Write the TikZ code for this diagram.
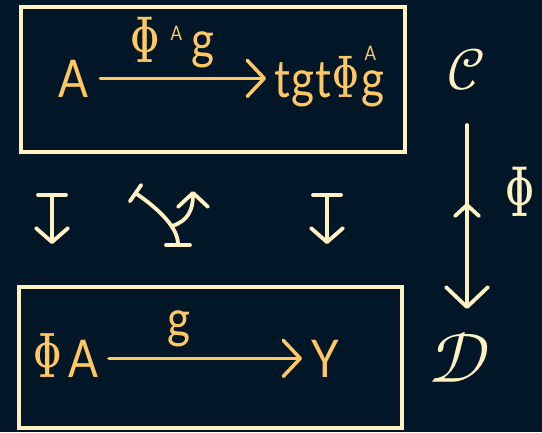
\documentclass[tikz,border=0pt]{standalone}
\usepackage{fontspec}
\setmainfont[FakeStretch=0.85]{Lato}
\newfontfamily\lmfont{Latin Modern Roman}
\newfontfamily\lmmath{Latin Modern Math}
\usepackage{graphicx}
\usetikzlibrary{arrows.meta}
\definecolor{bg}{HTML}{011627}
\definecolor{ink}{HTML}{FFC862}
\definecolor{cream}{HTML}{FFF1C2}
\newcommand\PhiG[2]{{\fontsize{#1}{#1}\selectfont\lmfont\bfseries\scalebox{#2}[1]{Φ}}}
\newcommand\smallA{{\fontsize{20}{20}\selectfont A}}
\begin{document}
\begin{tikzpicture}[x=1pt,y=-1pt,
  box/.style={draw=cream, line width=4pt, inner sep=0pt},
  lbl/.style={text=ink, inner sep=0pt, font=\fontsize{52}{52}\selectfont},
  cr/.style={text=cream, inner sep=0pt},
  arr/.style={draw=ink, line width=3.5pt, line cap=round, -{Straight Barb[length=17pt,width=36pt,round]}},
  carr/.style={draw=cream, line width=3.8pt, line cap=round, line join=round},
]
\useasboundingbox (0,0) rectangle (542,432);
\fill[bg] (0,0) rectangle (542,432);
% boxes
\node[box, minimum width=384pt, minimum height=145pt] (topbox) at (213,79.5) {};
\node[box, minimum width=383pt, minimum height=141pt] (botbox) at (210.5,357.5) {};
% top row
\node[lbl, anchor=base west] (A1) at (58,97) {A};
\node[lbl, anchor=base west] (T1) at (274,97) {t\hspace{1pt}g\hspace{1pt}t\hspace{2pt}\PhiG{60}{0.55}\hspace{2pt}\rlap{\hspace{3pt}\raisebox{37pt}{\smallA}}g};
\node[lbl, anchor=base west] (L1) at (130,62) {\PhiG{66}{0.55}\hspace{11pt}\raisebox{22pt}{\smallA}\hspace{9pt}\raisebox{4pt}{g}};
\draw[arr] ([xshift=12pt]A1.east) -- ([xshift=-8pt]T1.west |- A1.east);
% bottom row
\node[lbl, anchor=base west] (A2) at (33,377) {\PhiG{64}{0.55}\hspace{7pt}A};
\node[lbl, anchor=base west] (Y2) at (311,377) {Y};
\node[lbl, anchor=base west] (L2) at (167,337) {g};
\draw[arr] ([xshift=10pt]A2.east |- Y2.east) -- ([xshift=-9pt]Y2.west);
% middle symbols
\coordinate (l1) at (52,193); \coordinate (l2) at (52,244);
\coordinate (r1) at (327,193); \coordinate (r2) at (327,244);
\draw[carr, {Bar[width=28pt,round]}-{Straight Barb[length=14pt,width=32pt,round]}] (l1) -- (l2);
\draw[carr, {Bar[width=28pt,round]}-{Straight Barb[length=14pt,width=32pt,round]}] (r1) -- (r2);
\coordinate (m1) at (134,192); \coordinate (m2) at (178,247);
\coordinate (b1) at (172,226); \coordinate (b2) at (193,191);
\draw[carr, {Bar[width=20pt,round]}-{Bar[width=24pt,round]}] (m1) .. controls (160,210) and (178,228) .. (m2);
\draw[carr, -{Straight Barb[length=14pt,width=30pt,round]}] (b1) .. controls (188,221) and (193,210) .. (b2);
% right column
\node[cr, font=\fontsize{58}{58}\selectfont\lmmath] (C) at (466,70) {𝒞};
\node[cr, font=\fontsize{70}{70}\selectfont\lmmath] (D) at (460,357) {𝒟};
\node[cr] (P) at (520,192) {\PhiG{72}{0.5}};
\coordinate (c1) at (467,125); \coordinate (c2) at (467,309);
\draw[carr, -{Straight Barb[length=20pt,width=42pt,round]}] (c1) -- (c2);
\coordinate (h0) at (467,205);
\draw[carr] ([shift={(-12,11)}]h0) -- (h0) -- ([shift={(12,11)}]h0);
\end{tikzpicture}
\end{document}
